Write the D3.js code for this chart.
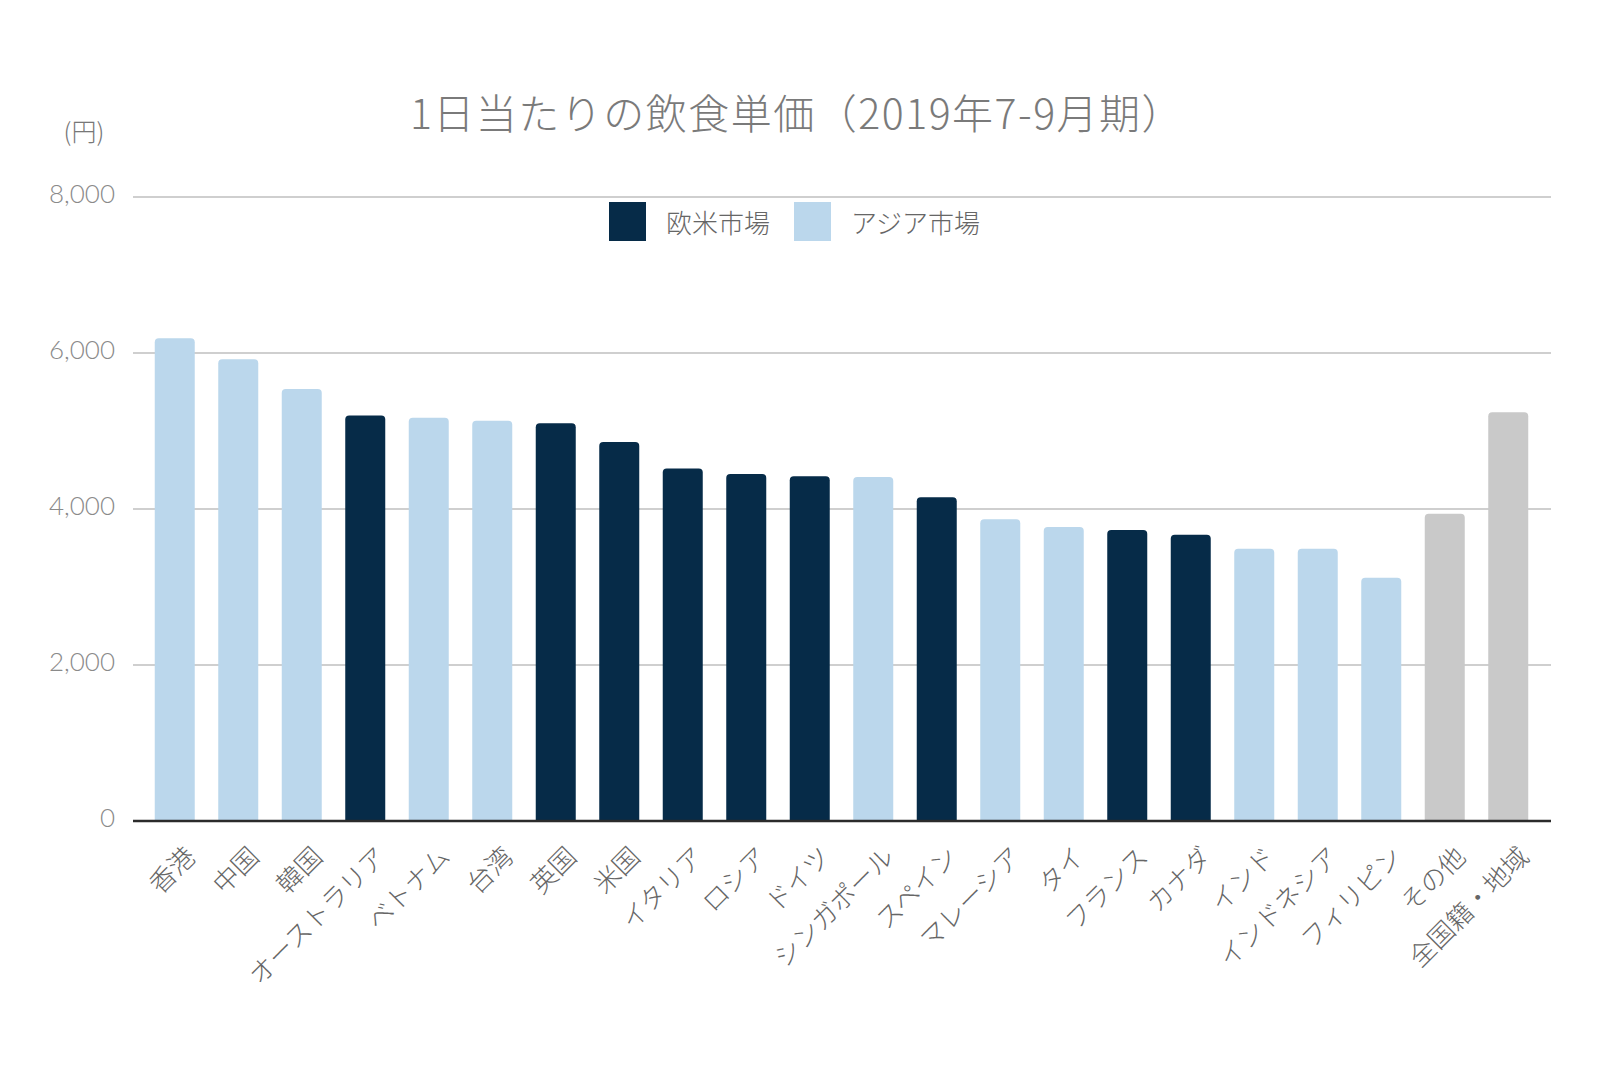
<!DOCTYPE html>
<html><head><meta charset="utf-8">
<script src="https://cdn.jsdelivr.net/npm/d3@7"></script>
<style>
html,body{margin:0;padding:0;background:#fff;}
svg{display:block;}
</style></head>
<body>
<svg id="c" width="1600" height="1067"></svg>
<script>
const categories = ["香港","中国","韓国","オーストラリア","ベトナム","台湾","英国","米国","イタリア","ロシア","ドイツ","シンガポール","スペイン","マレーシア","タイ","フランス","カナダ","インド","インドネシア","フィリピン","その他","全国籍・地域"];
const values = [6190,5920,5540,5200,5170,5130,5100,4860,4520,4450,4420,4410,4150,3870,3770,3730,3670,3490,3490,3120,3940,5240];
const groups = ["asia","asia","asia","west","asia","asia","west","west","west","west","west","asia","west","asia","asia","west","west","asia","asia","asia","other","other"];
const yTicks = [0,2000,4000,6000,8000];
const legendLabels = ["欧米市場","アジア市場"];
const titleText = "1日当たりの飲食単価（2019年7-9月期）";
const unitText = "(円)";

const colors = {west:"#062b48", asia:"#bbd7ec", other:"#c9c9c9"};
const jp = "'Noto Sans CJK JP','Noto Sans',sans-serif";

const svg = d3.select("#c");
const x = d3.scaleBand().domain(categories).range([143,1540]).paddingInner(0.37).paddingOuter(0.185);
const y = d3.scaleLinear().domain([0,8000]).range([821,197]);

// title
svg.append("text").attr("x",797).attr("y",118).attr("text-anchor","middle")
  .attr("dominant-baseline","middle").attr("font-family",jp).attr("font-weight",300)
  .attr("font-size",41).attr("letter-spacing",1.5).attr("fill","#7a7a7a").text(titleText);
svg.append("text").attr("x",84).attr("y",134).attr("text-anchor","middle")
  .attr("dominant-baseline","middle").attr("font-family",jp).attr("font-weight",300)
  .attr("font-size",25).attr("fill","#777").text(unitText);

// grid
const grid = svg.append("g");
grid.selectAll("line").data(yTicks.filter(d=>d>0)).join("line")
  .attr("x1",133).attr("x2",1551).attr("y1",d=>y(d)).attr("y2",d=>y(d))
  .attr("stroke","#cfcfcf").attr("stroke-width",2);
grid.selectAll("text").data(yTicks).join("text")
  .attr("x",115).attr("y",d=>y(d)).attr("text-anchor","end").attr("dominant-baseline","middle")
  .attr("font-family","Lato,'Open Sans',sans-serif").attr("font-weight",300)
  .attr("font-size",26).attr("fill","#8a8a8a").text(d=>d3.format(",")(d));

// bars with rounded top
const r = 4;
svg.append("g").selectAll("path").data(categories).join("path")
  .attr("fill",(d,i)=>colors[groups[i]])
  .attr("d",(d,i)=>{
    const x0 = x(d), w = x.bandwidth(), yt = y(values[i]), yb = y(0);
    return `M${x0},${yb}V${yt+r}Q${x0},${yt} ${x0+r},${yt}H${x0+w-r}Q${x0+w},${yt} ${x0+w},${yt+r}V${yb}Z`;
  });

// baseline
svg.append("line").attr("x1",133).attr("x2",1551).attr("y1",y(0)).attr("y2",y(0))
  .attr("stroke","#2b2b2b").attr("stroke-width",2.5);

// x labels
svg.append("g").selectAll("text").data(categories).join("text")
  .attr("transform",d=>`translate(${x(d)+x.bandwidth()/2+16},852) rotate(-45)`)
  .attr("text-anchor","end").attr("dy","0.35em")
  .attr("font-family",jp).attr("font-weight",300).attr("font-size",26).attr("fill","#666")
  .text(d=>d);

// legend
const leg = svg.append("g");
const legColors = [colors.west, colors.asia];
const legX = [609, 794];
legendLabels.forEach((t,i)=>{
  leg.append("rect").attr("x",legX[i]).attr("y",202).attr("width",37).attr("height",39).attr("fill",legColors[i]);
  leg.append("text").attr("x",legX[i]+57).attr("y",226).attr("dominant-baseline","middle")
    .attr("font-family",jp).attr("font-weight",300).attr("font-size",26).attr("fill","#666").text(t);
});
</script>
</body></html>
